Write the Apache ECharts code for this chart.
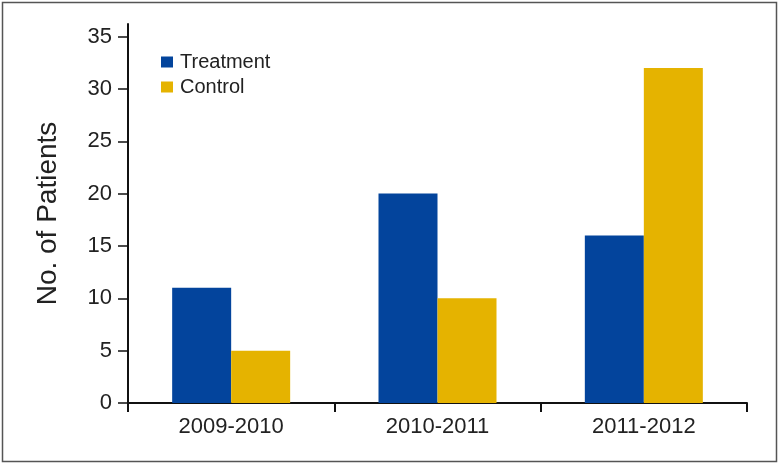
<!DOCTYPE html>
<html>
<head>
<meta charset="utf-8">
<script src="https://cdn.jsdelivr.net/npm/echarts@6/dist/echarts.min.js"></script>
<style>
html,body{margin:0;padding:0;background:#fff;}
#c{width:780px;height:465px;}
</style>
</head>
<body>
<div id="c"></div>
<script>
const categories = ['2009-2010', '2010-2011', '2011-2012'];
const treatment = [11, 20, 16];
const control = [5, 10, 32];
const yTicks = [0, 5, 10, 15, 20, 25, 30, 35];

const chart = echarts.init(document.getElementById('c'));
chart.setOption({
  animation: false,
  backgroundColor: '#fff',
  graphic: [{
    type: 'rect', silent: true,
    shape: {x: 2.5, y: 2.5, width: 774, height: 459},
    style: {fill: 'none', stroke: '#555', lineWidth: 1.5}
  }],
  legend: {
    orient: 'vertical', left: 156, top: 47, itemGap: 5,
    itemWidth: 12, itemHeight: 11,
    icon: 'rect',
    textStyle: {fontFamily: 'Liberation Sans', fontSize: 20, color: '#222', padding: [0,0,0,2]},
    data: ['Treatment', 'Control']
  },
  grid: {left: 128, right: 33, top: 24, bottom: 62},
  xAxis: {
    type: 'category', data: categories,
    axisLine: {lineStyle: {color: '#111', width: 2}},
    axisTick: {show: true, length: 9, lineStyle: {color: '#111', width: 2}},
    axisLabel: {margin: 13, fontFamily: 'Liberation Sans', fontSize: 22, color: '#222'}
  },
  yAxis: {
    type: 'value', min: 0, max: 36.2, interval: 5,
    name: 'No. of Patients', nameLocation: 'middle', nameGap: 66, nameRotate: 90,
    nameTextStyle: {fontFamily: 'Liberation Sans', fontSize: 28, color: '#222'},
    axisLine: {show: true, lineStyle: {color: '#111', width: 2}},
    axisTick: {show: true, length: 10, customValues: yTicks, lineStyle: {color: '#111', width: 1.5}},
    axisLabel: {margin: 16, customValues: yTicks, fontFamily: 'Liberation Sans', fontSize: 22, color: '#222'},
    splitLine: {show: false}
  },
  series: [
    {name: 'Treatment', type: 'bar', data: treatment, barWidth: 59, barGap: '0%', itemStyle: {color: '#03449c'}},
    {name: 'Control', type: 'bar', data: control, barWidth: 59, barGap: '0%', itemStyle: {color: '#e5b300'}}
  ]
});
</script>
</body>
</html>
